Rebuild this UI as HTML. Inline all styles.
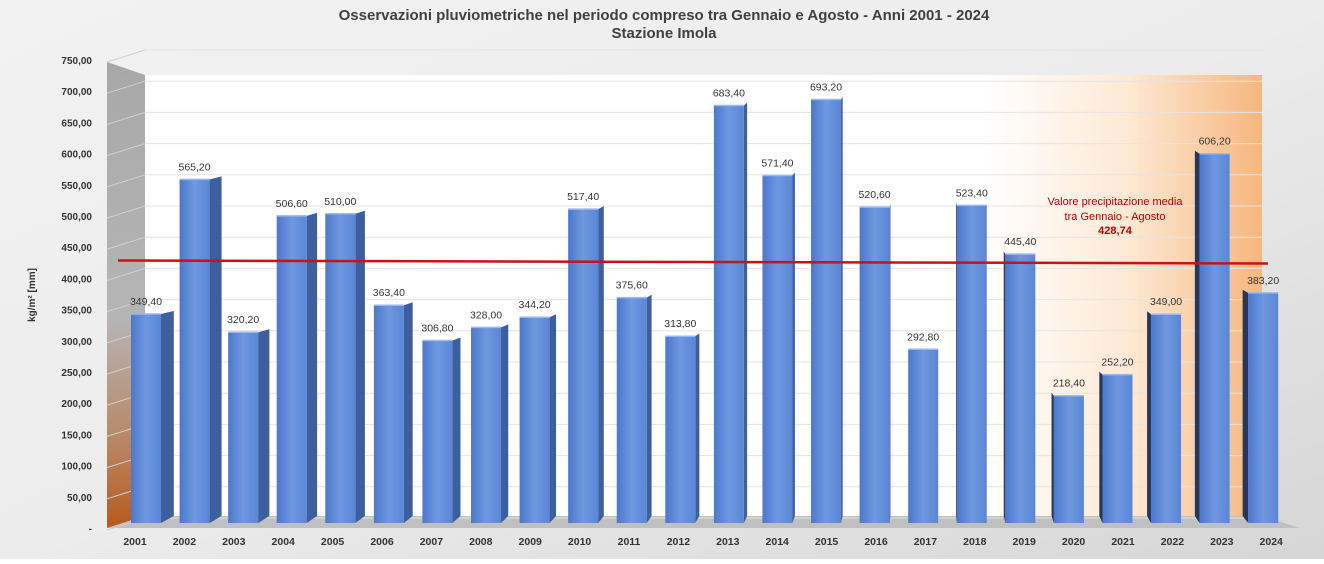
<!DOCTYPE html>
<html><head><meta charset="utf-8"><style>
body{margin:0;width:1324px;height:559px;overflow:hidden;font-family:"Liberation Sans",sans-serif}
</style></head><body>
<svg width="1324" height="559" viewBox="0 0 1324 559" xmlns="http://www.w3.org/2000/svg">
<defs>
<linearGradient id="bg" x1="0" y1="0" x2="1" y2="1"><stop offset="0" stop-color="#f2f2f2"/><stop offset="0.5" stop-color="#ececec"/><stop offset="1" stop-color="#d6d6d6"/></linearGradient>
<linearGradient id="plot" x1="0" y1="0" x2="1" y2="0"><stop offset="0" stop-color="#fff"/><stop offset="0.75" stop-color="#fff"/><stop offset="0.88" stop-color="#fde9d4"/><stop offset="1" stop-color="#f6b67e"/></linearGradient>
<linearGradient id="wall" x1="0" y1="0" x2="0" y2="1"><stop offset="0" stop-color="#a8a8a8"/><stop offset="0.55" stop-color="#b5b5b5"/><stop offset="0.8" stop-color="#b88a6a"/><stop offset="1" stop-color="#b85a1c"/></linearGradient>
<linearGradient id="front" x1="0" y1="0" x2="1" y2="0"><stop offset="0" stop-color="#4c78cc"/><stop offset="0.5" stop-color="#6f98e0"/><stop offset="1" stop-color="#5a86d6"/></linearGradient>
</defs>
<rect width="1324" height="559" fill="url(#bg)"/>
<text x="664" y="20" text-anchor="middle" font-size="15" font-weight="bold" fill="#404040">Osservazioni pluviometriche nel periodo compreso tra Gennaio e Agosto - Anni 2001 - 2024</text>
<text x="664" y="38" text-anchor="middle" font-size="15" font-weight="bold" fill="#404040">Stazione Imola</text>
<polygon points="107,62 145,75 145,516 107,528" fill="url(#wall)"/>
<rect x="145" y="75" width="1117" height="441" fill="url(#plot)"/>
<polygon points="107,528 145,516 1262,516 1300,528" fill="#c0c0c0"/>
<g id="grid"></g>
<g id="ylab"></g>
<text transform="translate(35,295) rotate(-90)" text-anchor="middle" font-size="10" font-weight="bold" fill="#333">kg/m² [mm]</text>
<g id="bars"></g>
<g id="xlab"></g>
<line id="mean" x1="118" x2="1268" stroke="#d01010" stroke-width="2.5"/>
<text x="1115" y="205" text-anchor="middle" font-size="11" fill="#c00000">Valore precipitazione media</text>
<text x="1115" y="220" text-anchor="middle" font-size="11" fill="#c00000">tra Gennaio - Agosto</text>
<text id="meanText" x="1115" y="234" text-anchor="middle" font-size="11" font-weight="bold" fill="#c00000">428,74</text>
</svg>
<script>
const years=["2001","2002","2003","2004","2005","2006","2007","2008","2009","2010","2011","2012","2013","2014","2015","2016","2017","2018","2019","2020","2021","2022","2023","2024"];
const values=[349.4,565.2,320.2,506.6,510.0,363.4,306.8,328.0,344.2,517.4,375.6,313.8,683.4,571.4,693.2,520.6,292.8,523.4,445.4,218.4,252.2,349.0,606.2,383.2];
const yTicks=[0,50,100,150,200,250,300,350,400,450,500,550,600,650,700,750];
const meanValue=428.74;
const NS="http://www.w3.org/2000/svg";
const y=v=>528-v*0.624;
const xc=i=>135+i*49.4;
const fmt=v=>v.toFixed(2).replace('.',',');
function mk(t,a,p){const e=document.createElementNS(NS,t);for(const k in a)e.setAttribute(k,a[k]);p.appendChild(e);return e;}
const grid=document.getElementById('grid'),ylab=document.getElementById('ylab'),bars=document.getElementById('bars'),xlab=document.getElementById('xlab');
yTicks.forEach(t=>{
 const g=mk('line',{x1:145,x2:1262,y1:y(t)-10,y2:y(t)-10,stroke:'#e4e4e4','stroke-width':1},grid);
 
 
 const w=mk('line',{x1:107,x2:145,y1:y(t)+2,y2:y(t)-10,stroke:'#d0d0d0','stroke-width':1},grid);
 
 
 const l=mk('text',{x:92,y:y(t)+4,'text-anchor':'end','font-size':10,'font-weight':'bold',fill:'#333'},ylab);
 l.textContent=t===0?'-':fmt(t);
 
 
});
const VP=925;
values.forEach((v,i)=>{
 const c=xc(i);
 const fw=30;
 const fl=c-4-19*(i/23);
 const fc=fl+fw/2;
 const right=fc<VP;
 const sw=Math.abs(fc-VP)/790*13;
 const top=y(v)+4, bot=523;
 const g=mk('g',{},bars);
 
 
 if(right){
  mk('polygon',{points:`${fl+fw},${top} ${fl+fw+sw},${top-3} ${fl+fw+sw},${bot-7} ${fl+fw},${bot}`,fill:'#3d5f9e'},g);
 }else{
  mk('polygon',{points:`${fl},${top} ${fl-sw},${top-3} ${fl-sw},${bot-7} ${fl},${bot}`,fill:'#26375a'},g);
 }
 mk('rect',{x:fl,y:top,width:fw,height:bot-top,fill:'url(#front)'},g);
 mk('line',{x1:fl,x2:fl+fw,y1:top,y2:top,stroke:'#9bb8ec','stroke-width':1.5},g);
 const lb=mk('text',{x:fc,y:top-9,'text-anchor':'middle','font-size':10.5,fill:'#333'},bars);
 lb.textContent=fmt(v);
 
 
 const xl=mk('text',{x:c,y:545,'text-anchor':'middle','font-size':10.5,'font-weight':'bold',fill:'#333'},xlab);
 xl.textContent=years[i];
 
 
});
const m=document.getElementById('mean');
m.setAttribute('y1',y(meanValue));m.setAttribute('y2',y(meanValue)+3);
document.getElementById('meanText').textContent=fmt(meanValue);
</script>
</body></html>
